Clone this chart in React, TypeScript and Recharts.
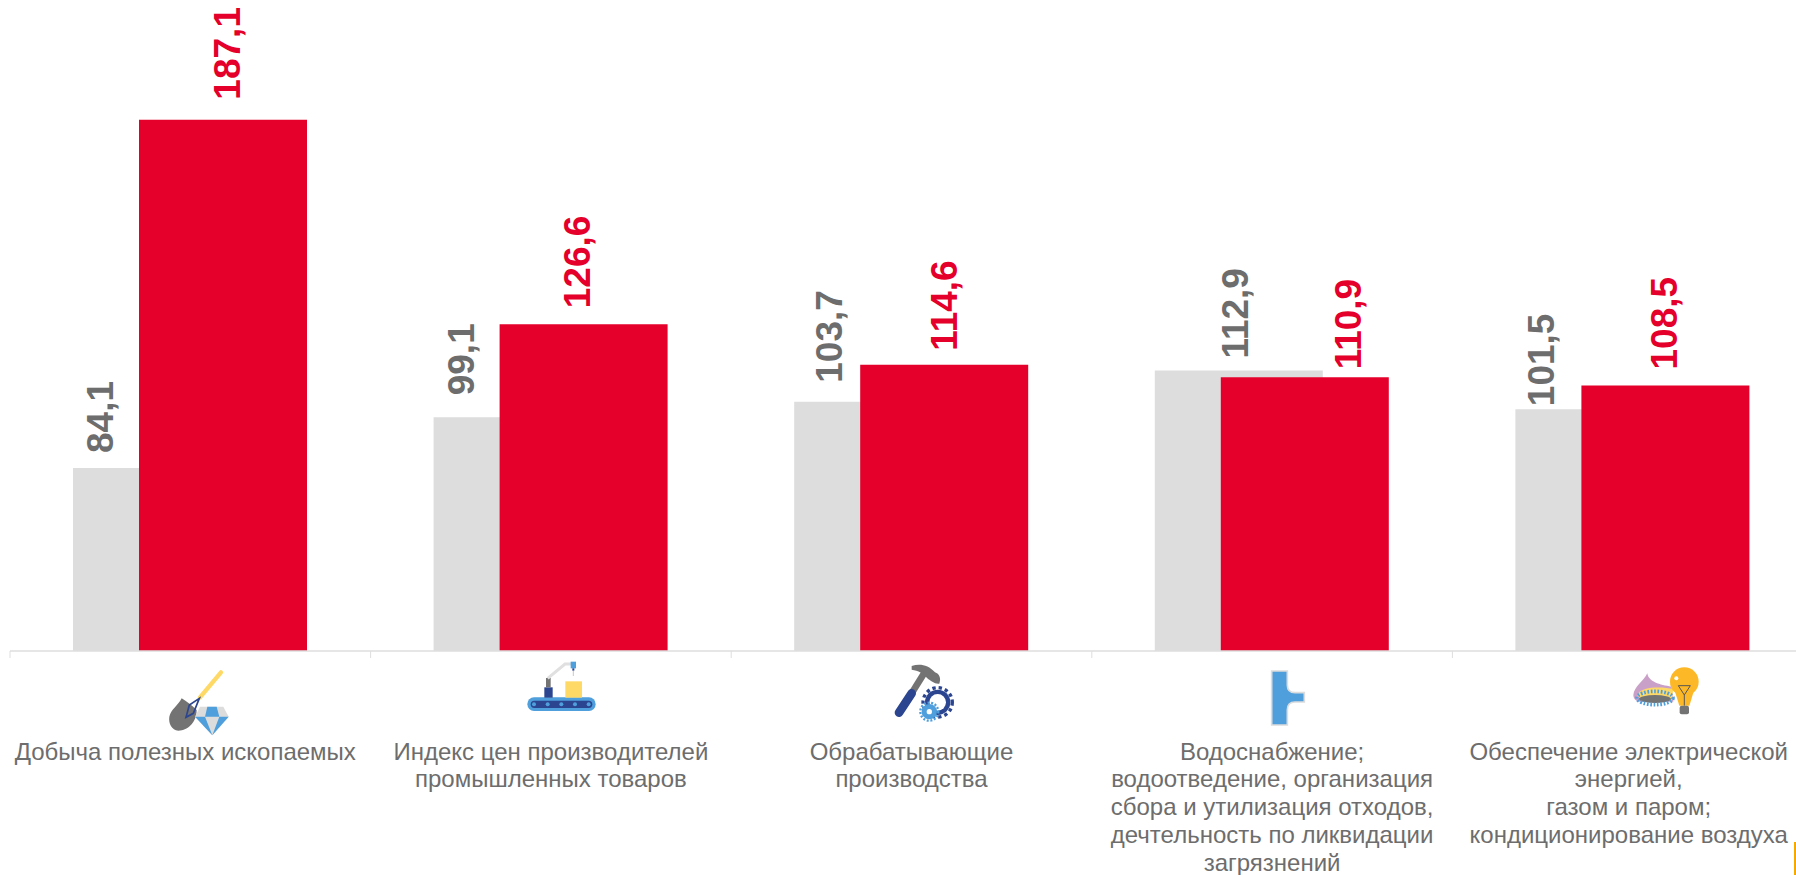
import { BarChart, Bar, XAxis, YAxis, LabelList } from "recharts";

const categoryLines = [
  ["Добыча полезных ископаемых"],
  ["Индекс цен производителей", "промышленных товаров"],
  ["Обрабатывающие", "производства"],
  ["Водоснабжение;", "водоотведение, организация", "сбора и утилизация отходов,", "дечтельность по ликвидации", "загрязнений"],
  ["Обеспечение электрической", "энергией,", "газом и паром;", "кондиционирование воздуха"],
];
const previousValues = [84.1, 99.1, 103.7, 112.9, 101.5];
const currentValues = [187.1, 126.6, 114.6, 110.9, 108.5];

// hand placed labels in the source, offset from the bar's left edge / top
const greyLabelDx = [26.5, 27, 34, 80, 25];
const greyLabelGap = [15, 22, 19, 12, 3];
const redLabelDx = [88, 77, 83, 127, 82];
const redLabelGap = [20, 16, 14, 8, 16];
const tickLabelDx = [-5, 0, 0, 0, -4];

const RED = "#e4002b";
const LIGHT = "#dddddd";
const TEXT = "#6d6d6d";
const AXIS = "#dedede";
const BLUE = "#4f9fdc";
const NAVY = "#2b4590";
const YELLOW = "#ffd966";
const STEEL = "#737373";

const BAND = 360.6;

const data = categoryLines.map((lines, i) => ({
  name: lines.join(" "),
  previous: previousValues[i],
  current: currentValues[i],
}));

const Icons = () => (
  <g>
    <g transform="translate(150 660) scale(0.3333)">
      <line x1={213} y1={37} x2={150} y2={112} stroke={YELLOW} strokeWidth={13} strokeLinecap="round" />
      <path d="M95 115 C110 125 125 135 140 150 C140 185 115 212 85 212 C65 210 55 190 58 170 C62 150 85 135 95 115 Z" fill={STEEL} />
      <path d="M148 115 L130 160 L108 172 L118 135 Z" fill="none" stroke={NAVY} strokeWidth={5} />
      <path d="M150 140 L220 140 L236 170 L187 226 L135 170 Z" fill="#dcdcdc" />
      <path d="M172 140 L200 140 L208 170 L165 170 Z" fill={BLUE} />
      <path d="M135 170 L165 170 L187 226 Z" fill={BLUE} />
      <path d="M208 170 L236 170 L187 226 Z" fill={BLUE} />
    </g>
    <g transform="translate(510 650) scale(0.3333)">
      <rect x={52} y={142} width={205} height={41} rx={20} fill={BLUE} />
      <rect x={62} y={152} width={185} height={22} rx={11} fill={NAVY} />
      {[72, 113, 154, 195, 236].map((cx) => (
        <circle key={cx} cx={cx} cy={163} r={6} fill={BLUE} />
      ))}
      <rect x={166} y={94} width={50} height={49} fill={YELLOW} />
      <rect x={103} y={112} width={25} height={31} fill={NAVY} />
      <rect x={108} y={84} width={14} height={28} fill={STEEL} />
      <polyline points="113,85 165,42 185,42" fill="none" stroke="#e0e0e0" strokeWidth={9} />
      <rect x={182} y={35} width={16} height={20} fill={BLUE} />
      <rect x={187} y={55} width={6} height={7} fill={NAVY} />
      <line x1={190} y1={62} x2={190} y2={78} stroke="#aaaaaa" strokeWidth={2} />
    </g>
    <g transform="translate(870 655) scale(0.3333)">
      <line x1={125} y1={115} x2={165} y2={50} stroke={STEEL} strokeWidth={20} />
      <line x1={87} y1={173} x2={125} y2={115} stroke={NAVY} strokeWidth={26} strokeLinecap="round" />
      <path d="M125 33 C150 25 175 30 195 52 C208 56 214 70 208 86 C195 88 182 78 172 70 C160 55 145 47 125 44 Z" fill={STEEL} />
      <circle cx={203} cy={142} r={44} fill="none" stroke={NAVY} strokeWidth={10} strokeDasharray="10 9" />
      <circle cx={203} cy={142} r={38} fill={NAVY} />
      <circle cx={203} cy={142} r={25} fill="#ffffff" />
      <circle cx={178} cy={170} r={27} fill="none" stroke={BLUE} strokeWidth={7} strokeDasharray="6 5" />
      <circle cx={178} cy={170} r={23} fill={BLUE} />
      <circle cx={178} cy={170} r={8} fill="#ffffff" />
    </g>
    <g transform="translate(1230 655) scale(0.3333)">
      <path
        d="M125 48 L172 48 L172 90 C172 105 180 113 195 113 L223 113 L223 141 L195 141 C180 141 172 150 172 165 L172 210 L125 210 Z"
        fill={BLUE}
        stroke="#dcdcdc"
        strokeWidth={5}
      />
    </g>
    <g transform="translate(1610 655) scale(0.3333)">
      <path d="M70 120 C72 95 100 80 112 55 C115 80 150 90 185 95 L190 140 L85 140 C75 135 70 130 70 120 Z" fill="#c9a0c8" />
      <path d="M82 120 C95 92 160 96 190 102 L185 135 L95 135 Z" fill={YELLOW} />
      <ellipse cx={135} cy={132} rx={48} ry={12} fill={STEEL} />
      <ellipse cx={135} cy={129} rx={54} ry={20} fill="none" stroke={BLUE} strokeWidth={11} strokeDasharray="5 5" />
      <circle cx={223} cy={80} r={43} fill="#fdb827" />
      <path d="M195 110 L251 110 L238 152 L208 152 Z" fill="#fdb827" />
      <rect x={209} y={152} width={28} height={26} rx={6} fill={STEEL} />
      <path d="M205 92 L241 92 L223 120 Z M223 120 L223 152" fill="none" stroke="#555555" strokeWidth={3} />
      <circle cx={199} cy={70} r={6} fill="#ffffff" />
    </g>
  </g>
);

const CategoryTick = ({ x, payload }: any) => {
  const i = payload.index;
  const lines = categoryLines[i];
  const left = x - BAND / 2;
  return (
    <g>
      <line x1={left} y1={651} x2={left} y2={658} stroke={AXIS} />
      {i === 0 && <Icons />}
      <text x={x + tickLabelDx[i]} textAnchor="middle" fontSize={24} fill={TEXT} fontFamily="Liberation Sans">
        {lines.map((line, n) => (
          <tspan key={n} x={x + tickLabelDx[i]} y={759.5 + n * 27.8}>
            {line}
          </tspan>
        ))}
      </text>
    </g>
  );
};

const rotatedLabel = (color: string, dx: number[], gap: number[]) => (props: any) => {
  const { x, y, value, index } = props;
  const px = x + dx[index];
  const py = y - gap[index];
  return (
    <text
      transform={`rotate(-90 ${px} ${py})`}
      x={px}
      y={py}
      dy="0.36em"
      textAnchor="start"
      fontSize={37}
      fontWeight="bold"
      fontFamily="Liberation Sans"
      fill={color}
    >
      {Number(value).toFixed(1).replace(".", ",")}
    </text>
  );
};

export default function App() {
  return (
    <div style={{ position: "fixed", left: 0, top: 0, width: 1796, height: 875, overflow: "hidden", background: "#fff" }}>
      <BarChart
        width={1813}
        height={875}
        data={data}
        margin={{ top: 76, right: 0, bottom: 194, left: 10 }}
        barSize={168}
        barGap={-102}
      >
        <YAxis hide domain={[30, 200]} />
        <XAxis dataKey="name" interval={0} axisLine={{ stroke: AXIS, strokeWidth: 1.5 }} tickLine={false} tick={<CategoryTick />} />
        <Bar dataKey="previous" fill={LIGHT} isAnimationActive={false}>
          <LabelList dataKey="previous" content={rotatedLabel(TEXT, greyLabelDx, greyLabelGap)} />
        </Bar>
        <Bar dataKey="current" fill={RED} isAnimationActive={false}>
          <LabelList dataKey="current" content={rotatedLabel(RED, redLabelDx, redLabelGap)} />
        </Bar>
      </BarChart>
      <div style={{ position: "absolute", left: 1794, top: 842, width: 2, height: 33, background: "#f5a800" }} />
    </div>
  );
}
